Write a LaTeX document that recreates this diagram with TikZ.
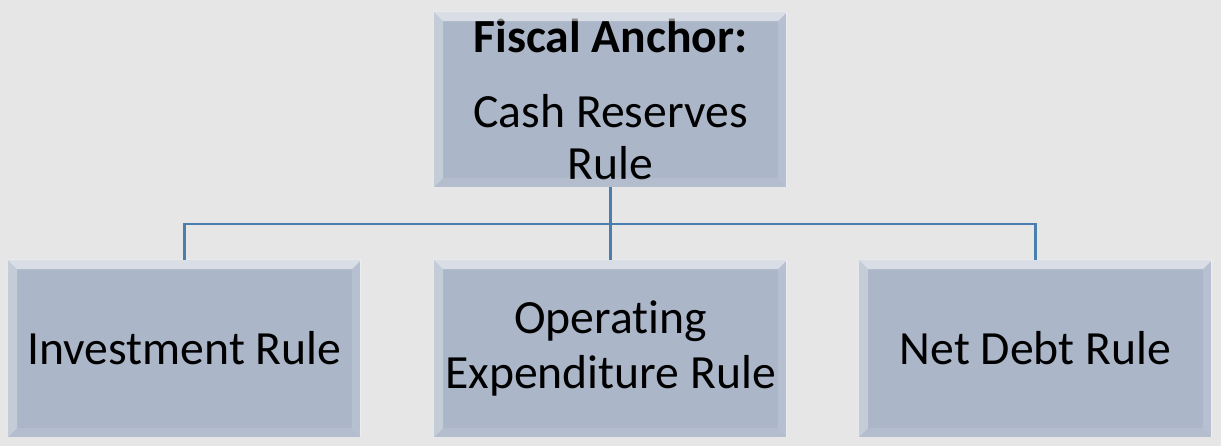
\documentclass[tikz,border=0pt]{standalone}
\usepackage{fontspec}
\setmainfont{Carlito}[Ligatures=NoCommon]
\usetikzlibrary{positioning}
\definecolor{bggray}{HTML}{E6E6E6}
\definecolor{boxfill}{HTML}{ABB6C8}
\definecolor{linkblue}{HTML}{4A7EAF}
\tikzset{
  rulebox/.style={fill=boxfill, minimum width=264.75pt, minimum height=132.75pt,
    inner sep=0pt, align=center, text=black, font=\fontsize{35.75}{41}\selectfont},
  link/.style={draw=linkblue, line width=1.8pt},
}
\newcommand{\bevel}[1]{%
  \fill[white, opacity=.55] (#1.north west) -- (#1.north east) -- ([shift={(-7pt,-7pt)}]#1.north east) -- ([shift={(7pt,-7pt)}]#1.north west) -- cycle;
  \fill[white, opacity=.3] (#1.north west) -- ([shift={(7pt,-7pt)}]#1.north west) -- ([shift={(7pt,7pt)}]#1.south west) -- (#1.south west) -- cycle;
  \fill[white, opacity=.15] (#1.north east) -- ([shift={(-7pt,-7pt)}]#1.north east) -- ([shift={(-7pt,7pt)}]#1.south east) -- (#1.south east) -- cycle;
  \fill[white, opacity=.1] (#1.south west) -- ([shift={(7pt,7pt)}]#1.south west) -- ([shift={(-7pt,7pt)}]#1.south east) -- (#1.south east) -- cycle;
  \draw[white, opacity=.7, line width=1pt] ([xshift=-.5pt]#1.north east) -- ([xshift=-.5pt]#1.south east);
}
\begin{document}
\begin{tikzpicture}[x=0.75pt, y=-0.75pt]
  \fill[bggray] (0,0) rectangle (1221,446);
  \useasboundingbox (0,0) rectangle (1221,446);

  % boxes
  \node[rulebox, minimum height=131.25pt] (anchor) at (610.5,99.5)
    {\textbf{Fiscal Anchor:}\\[15pt]Cash Reserves\\[-2pt]Rule};
  \node[rulebox] (invest) at (184.5,348.5) {Investment Rule};
  \node[rulebox] (opex) at (610.5,348.5) {Operating\\Expenditure Rule};
  \node[rulebox] (debt) at (1035.5,348.5) {Net Debt Rule};

  \foreach \b in {anchor, invest, opex, debt} {\bevel{\b}}

  % connectors
  \coordinate (fork) at (610.5,224);
  \draw[link] (anchor.south) -- (fork);
  \draw[link] (invest.north) |- (fork) -| (debt.north);
  \draw[link] (fork) -- (opex.north);
\end{tikzpicture}
\end{document}
